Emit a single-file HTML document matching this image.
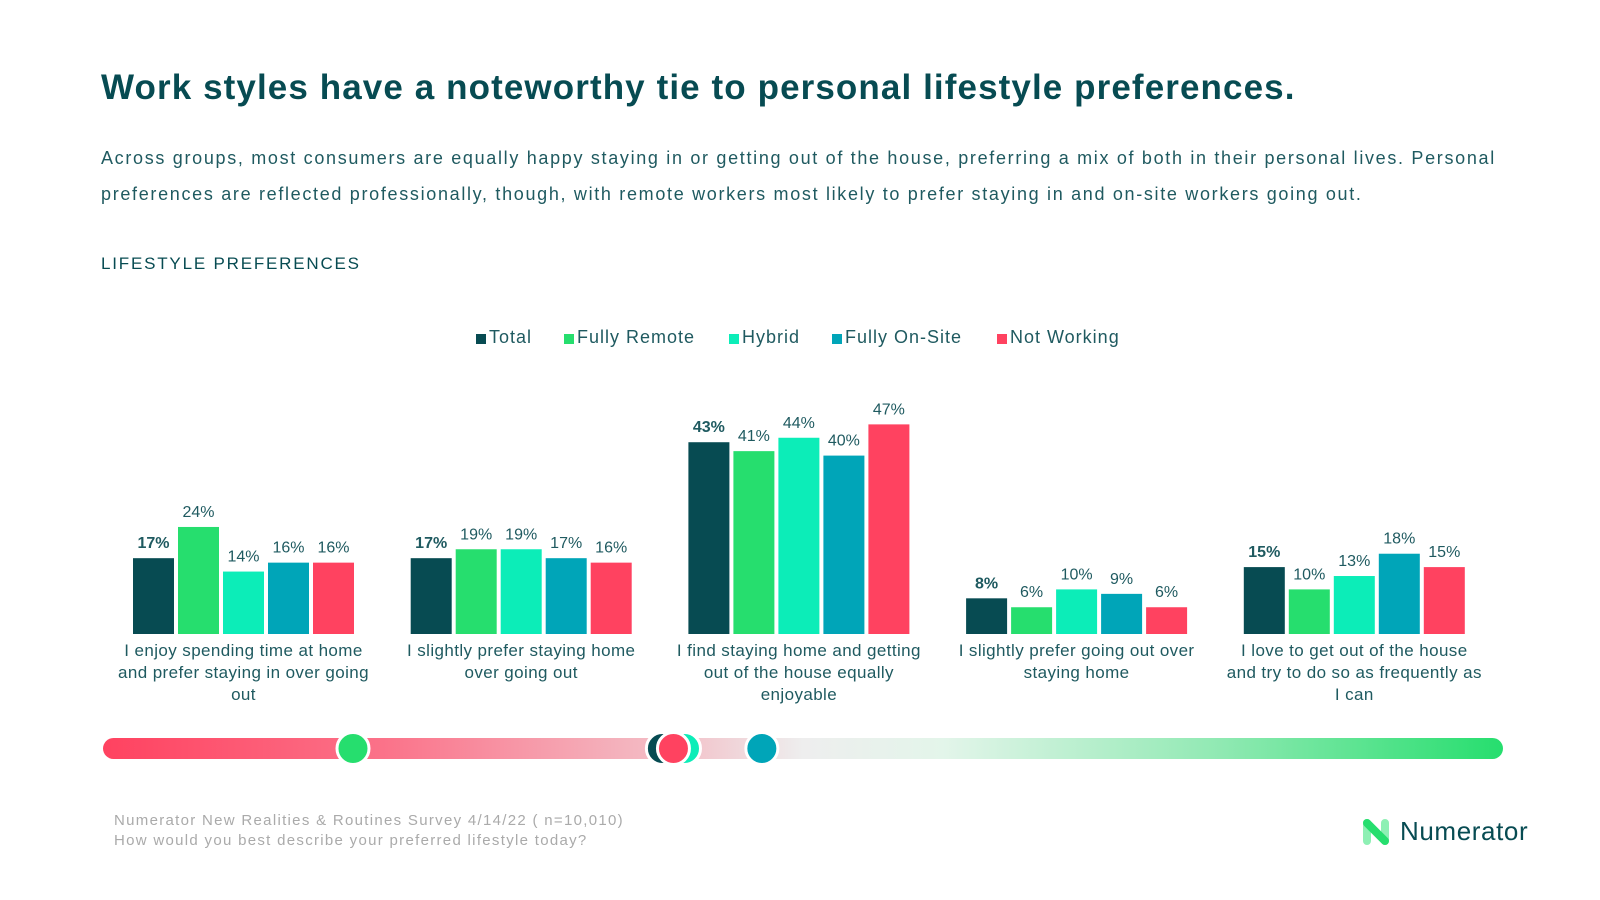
<!DOCTYPE html>
<html><head><meta charset="utf-8"><style>
body{margin:0;width:1600px;height:900px;background:#fff;font-family:"Liberation Sans",sans-serif;overflow:hidden;position:relative;color:#074B52}
.abs{position:absolute}
#title{left:101px;top:68px;font-size:35px;font-weight:bold;color:#074B52;letter-spacing:1.1px}
.sub{left:101px;font-size:18px;color:#1f5a60;letter-spacing:1.68px}
#sec{left:101px;top:254px;font-size:17px;letter-spacing:1.8px;color:#074B52}
.leg{top:327px;font-size:18px;color:#1f5a60;display:flex;align-items:center;letter-spacing:1px}
.leg i{display:inline-block;width:10px;height:10px;margin-right:3px;margin-top:3px}
.foot{left:114px;font-size:15px;color:#aaa;letter-spacing:1.3px}
</style></head><body>
<div id="title" class="abs">Work styles have a noteworthy tie to personal lifestyle preferences.</div>
<div class="abs sub" style="top:148px">Across groups, most consumers are equally happy staying in or getting out of the house, preferring a mix of both in their personal lives. Personal</div>
<div class="abs sub" style="top:184px">preferences are reflected professionally, though, with remote workers most likely to prefer staying in and on-site workers going out.</div>
<div id="sec" class="abs">LIFESTYLE PREFERENCES</div>
<div class="abs leg" style="left:476px"><i style="background:#074B52"></i>Total</div>
<div class="abs leg" style="left:564px"><i style="background:#26DE6E"></i>Fully Remote</div>
<div class="abs leg" style="left:729px"><i style="background:#0CEDB8"></i>Hybrid</div>
<div class="abs leg" style="left:832px"><i style="background:#00A5B8"></i>Fully On-Site</div>
<div class="abs leg" style="left:997px"><i style="background:#FF4260"></i>Not Working</div>
<svg id="chart" class="abs" style="left:0;top:0" width="1600" height="900">
<defs><linearGradient id="g" x1="0" x2="1">
<stop offset="0" stop-color="#FF4260"/><stop offset="0.2" stop-color="#fb7289"/><stop offset="0.42" stop-color="#f2c5cc"/><stop offset="0.5" stop-color="#eee"/><stop offset="0.6" stop-color="#e3f5ea"/><stop offset="0.8" stop-color="#8fe9b2"/><stop offset="1" stop-color="#26DE6E"/></linearGradient></defs>
<rect x="103" y="738" width="1400" height="21" rx="10.5" fill="url(#g)"/>
</svg>
<div class="abs foot" style="top:812px">Numerator New Realities &amp; Routines Survey 4/14/22 ( n=10,010)</div>
<div class="abs foot" style="top:832px">How would you best describe your preferred lifestyle today?</div>
<div class="abs" style="left:1362px;top:816px;display:flex;align-items:center">
<svg width="28" height="28" viewBox="0 0 28 28"><path d="M5 5 V23 M23 5 V23" stroke="#8ef0b4" stroke-width="8" stroke-linecap="round"/><path d="M5 5 L23 23" stroke="#26DE6E" stroke-width="8" stroke-linecap="round"/></svg>
<span style="font-size:26px;color:#074B52;margin-left:10px;letter-spacing:0.6px">Numerator</span></div>
<script>
const categories=[["I enjoy spending time at home","and prefer staying in over going","out"],["I slightly prefer staying home","over going out"],["I find staying home and getting","out of the house equally","enjoyable"],["I slightly prefer going out over","staying home"],["I love to get out of the house","and try to do so as frequently as","I can"]];
const seriesNames=["Total","Fully Remote","Hybrid","Fully On-Site","Not Working"];
const total=[17,17,43,8,15];
const fullyRemote=[24,19,41,6,10];
const hybrid=[14,19,44,10,13];
const fullyOnSite=[16,17,40,9,18];
const notWorking=[16,16,47,6,15];
const series=[total,fullyRemote,hybrid,fullyOnSite,notWorking];
const colors=["#074B52","#26DE6E","#0CEDB8","#00A5B8","#FF4260"];
const ns="http://www.w3.org/2000/svg";
const svg=document.getElementById('chart');
const base=634,perPct=4.46,g0=133,gStep=277.7,bw=41,bStep=45;
const yScale=v=>base-v*perPct;
const xBar=(c,s)=>g0+c*gStep+s*bStep;
function mk(t,a){const e=document.createElementNS(ns,t);for(const k in a)e.setAttribute(k,a[k]);svg.appendChild(e);return e;}
categories.forEach((cat,c)=>{
  series.forEach((arr,s)=>{
    const v=arr[c];
    const r=mk('rect',{x:xBar(c,s),y:yScale(v),width:bw,height:v*perPct,fill:colors[s]});
    
    
    const t=mk('text',{x:xBar(c,s)+bw/2,y:yScale(v)-10,'text-anchor':'middle','font-size':16,fill:'#1f5a60','font-weight':s===0?'bold':'normal','font-family':'Liberation Sans, sans-serif'});
    t.textContent=v+'%';
    
    
  });
  const cx=g0+c*gStep+(4*bStep+bw)/2;
  cat.forEach((line,i)=>{
    const t=mk('text',{x:cx,y:656+i*22,'text-anchor':'middle','font-size':17,fill:'#1f5a60','letter-spacing':'0.4','font-family':'Liberation Sans, sans-serif'});
    t.textContent=line;
    
    
  });
});
const score=arr=>arr.reduce((a,v,i)=>a+v*(i+1),0)/arr.reduce((a,v)=>a+v,0);
const xScore=s=>353+(s-2.59)*1105;
[0,2,4,1,3].forEach(s=>{
  const c=mk('circle',{cx:xScore(score(series[s])),cy:748.5,r:16,fill:colors[s],stroke:'#fff','stroke-width':3});
  
  
});
</script>
</body></html>
